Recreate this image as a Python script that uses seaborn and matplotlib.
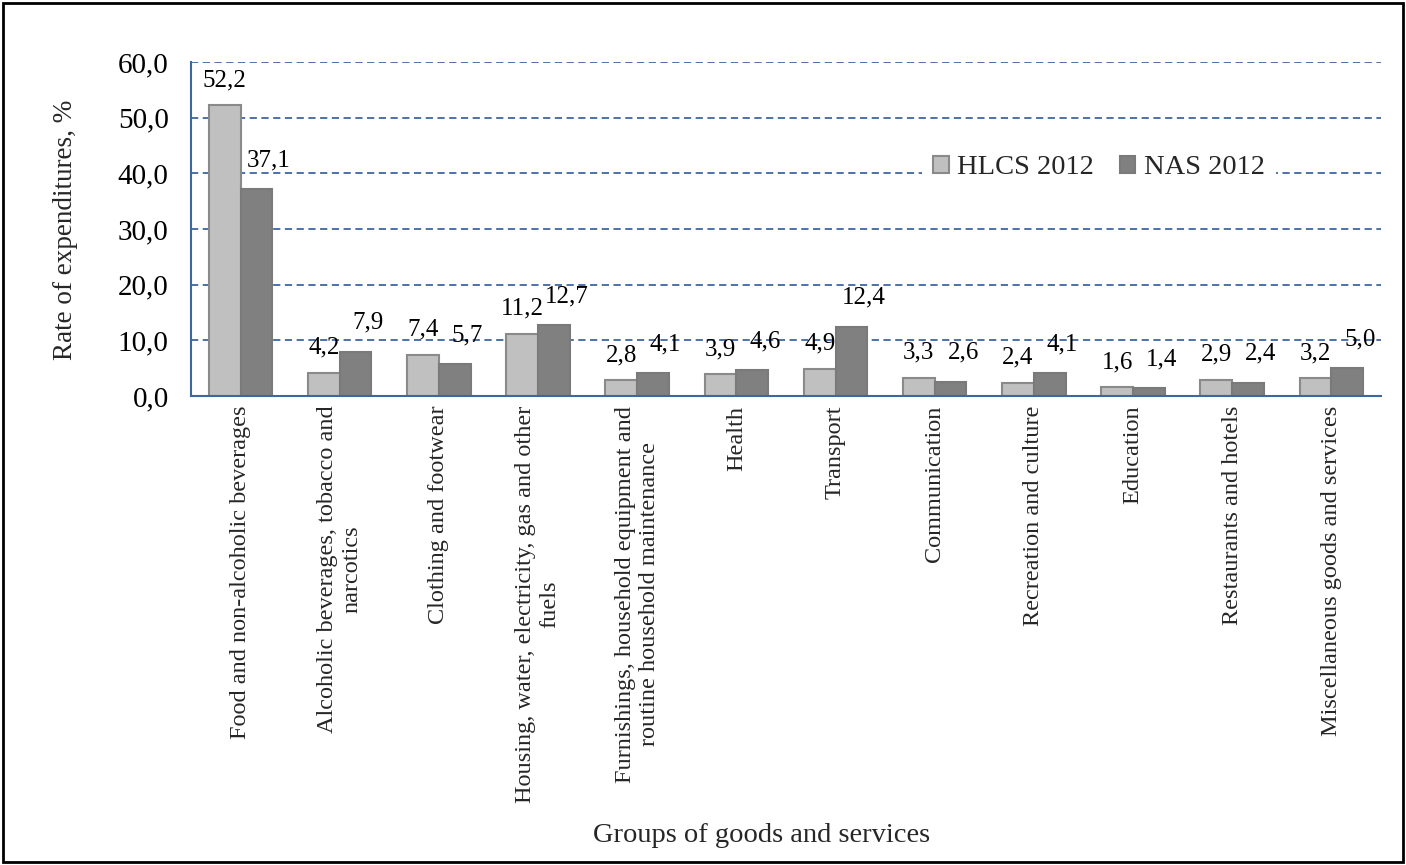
import numpy as np
import pandas as pd
import matplotlib
matplotlib.use("Agg")
import matplotlib.pyplot as plt
from matplotlib.patches import Rectangle
from matplotlib.ticker import FuncFormatter, FixedLocator
import seaborn as sns

categories = [
    "Food and non-alcoholic beverages",
    "Alcoholic beverages, tobacco and\nnarcotics",
    "Clothing and footwear",
    "Housing, water, electricity, gas and other\nfuels",
    "Furnishings, household equipment and\nroutine household maintenance",
    "Health",
    "Transport",
    "Communication",
    "Recreation and culture",
    "Education",
    "Restaurants and hotels",
    "Miscellaneous goods and services",
]
series_names = ["HLCS 2012", "NAS 2012"]
hlcs = [52.2, 4.2, 7.4, 11.2, 2.8, 3.9, 4.9, 3.3, 2.4, 1.6, 2.9, 3.2]
nas = [37.1, 7.9, 5.7, 12.7, 4.1, 4.6, 12.4, 2.6, 4.1, 1.4, 2.4, 5.0]
y_ticks = [0, 10, 20, 30, 40, 50, 60]

df = pd.DataFrame({
    "Group": categories * 2,
    "Survey": [series_names[0]] * len(categories) + [series_names[1]] * len(categories),
    "Value": hlcs + nas,
})

sns.set_style("white")
plt.rcParams["font.family"] = ["Liberation Serif", "DejaVu Serif"]

AXIS_BLUE = "#3F679F"
face_colors = {"HLCS 2012": "#C0C0C0", "NAS 2012": "#808080"}
edge_colors = {"HLCS 2012": "#8A8A8A", "NAS 2012": "#7A7A7A"}

fig = plt.figure(figsize=(14.06, 8.65), dpi=100)
ax = fig.add_axes([0.1358, 0.5422, 0.8464, 0.3861])

sns.barplot(data=df, x="Group", y="Value", hue="Survey", order=categories,
            hue_order=series_names, palette=face_colors, width=0.64, gap=0,
            ax=ax, legend=True)

for name, cont in zip(series_names, ax.containers):
    for patch in cont:
        patch.set_edgecolor(edge_colors[name])
        patch.set_linewidth(1.5)

ax.set_ylim(0, 60)
ax.set_xlim(-0.5, len(categories) - 0.5)

# gridlines
ax.yaxis.set_major_locator(FixedLocator(y_ticks))
ax.grid(axis="y", color=AXIS_BLUE, linestyle=(0, (4, 2.5)), linewidth=1.3)
ax.grid(axis="x", visible=False)
ax.set_axisbelow(True)

for s in ["top", "right"]:
    ax.spines[s].set_visible(False)
for s in ["left", "bottom"]:
    ax.spines[s].set_color(AXIS_BLUE)
    ax.spines[s].set_linewidth(1.5)

ax.yaxis.set_major_formatter(FuncFormatter(lambda v, p: f"{v:.1f}".replace(".", ",")))
ax.tick_params(axis="y", direction="inout", length=10, width=1.3, color=AXIS_BLUE,
               labelsize=21, pad=11, labelcolor="black")

# category labels at centers, tick marks at boundaries
ax.set_xticks(np.arange(len(categories)))
ax.set_xticklabels(categories, rotation=90, ha="center", va="top",
                   multialignment="center", fontsize=17.5)
ax.tick_params(axis="x", which="major", length=0, pad=7)
ax.set_xticks(np.arange(-0.5, len(categories), 1.0), minor=True)
ax.tick_params(axis="x", which="minor", direction="out", length=5, width=1.3,
               color=AXIS_BLUE)

ax.set_xlabel("")
ax.set_ylabel("")

# data labels
offsets = {"HLCS 2012": (0, 18), "NAS 2012": (9, 21)}
for name, cont in zip(series_names, ax.containers):
    dx, dy = offsets[name]
    for patch in cont:
        h = patch.get_height()
        ax.annotate(f"{h:.1f}".replace(".", ","),
                    xy=(patch.get_x() + patch.get_width() / 2, h),
                    xytext=(dx, dy), textcoords="offset points",
                    ha="center", va="center", fontsize=18, color="black")

# legend
handles, labels = ax.get_legend_handles_labels()
leg = ax.legend(handles, labels, loc="center", bbox_to_anchor=(0.763, 0.683),
                ncol=2, frameon=True, fancybox=False, fontsize=20.5,
                handlelength=0.55, handleheight=0.55, handletextpad=0.3,
                columnspacing=0.9, borderpad=0.4, borderaxespad=0)
leg.get_frame().set_facecolor("white")
leg.get_frame().set_edgecolor("none")
leg.get_frame().set_alpha(1)
for hnd, name in zip(leg.legend_handles, series_names):
    hnd.set_edgecolor(edge_colors[name])
    hnd.set_linewidth(1.5)

fig.text(66 / 1406, 1 - 230 / 865, "Rate of expenditures, %", rotation=90,
         ha="center", va="center", fontsize=19.5)
fig.text(762 / 1406, 1 - 835 / 865, "Groups of goods and services",
         ha="center", va="center", fontsize=20.5)

fig.patches.append(Rectangle((0.002, 0.003), 0.996, 0.994, transform=fig.transFigure,
                             fill=False, edgecolor="black", linewidth=2, zorder=10))

fig.savefig("out.png", dpi=100)
